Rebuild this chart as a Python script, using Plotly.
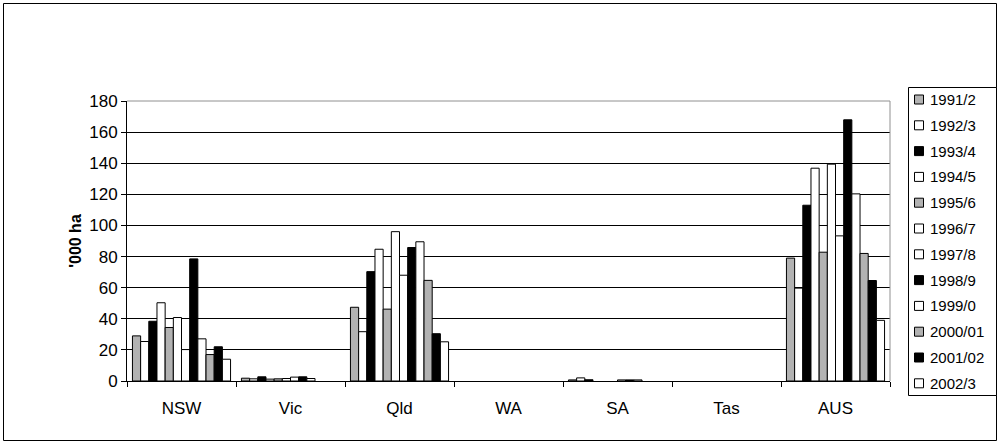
import plotly.graph_objects as go

categories = ["NSW", "Vic", "Qld", "WA", "SA", "Tas", "AUS"]
series_names = ["1991/2", "1992/3", "1993/4", "1994/5", "1995/6", "1996/7",
                "1997/8", "1998/9", "1999/0", "2000/01", "2001/02", "2002/3"]

v_1991_2 = [29.0, 1.8, 47.4, 0, 0.7, 0, 79.0]
v_1992_3 = [25.4, 1.4, 31.7, 0, 2.0, 0, 59.7]
v_1993_4 = [38.4, 2.7, 70.3, 0, 0.8, 0, 113.0]
v_1994_5 = [50.3, 1.2, 84.7, 0, 0, 0, 136.8]
v_1995_6 = [34.4, 1.4, 46.2, 0, 0, 0, 82.8]
v_1996_7 = [40.8, 1.6, 96.0, 0, 0, 0, 139.4]
v_1997_8 = [20.2, 2.5, 68.0, 0, 0.7, 0, 93.3]
v_1998_9 = [78.5, 2.7, 85.8, 0, 0.7, 0, 167.9]
v_1999_0 = [27.1, 1.6, 89.5, 0, 0.7, 0, 120.3]
v_2000_01 = [17.0, 0, 64.7, 0, 0, 0, 82.0]
v_2001_02 = [22.0, 0, 30.4, 0, 0, 0, 64.6]
v_2002_3 = [14.0, 0, 25.2, 0, 0, 0, 39.0]

series_values = [v_1991_2, v_1992_3, v_1993_4, v_1994_5, v_1995_6, v_1996_7,
                 v_1997_8, v_1998_9, v_1999_0, v_2000_01, v_2001_02, v_2002_3]

GRAY = "#b2b2b2"
WHITE = "#ffffff"
BLACK = "#000000"
series_colors = [GRAY, WHITE, BLACK, WHITE, GRAY, WHITE,
                 WHITE, BLACK, WHITE, GRAY, BLACK, WHITE]

y_title = "'000 ha"
y_ticks = [0, 20, 40, 60, 80, 100, 120, 140, 160, 180]

FONT = "Liberation Sans, Arial, sans-serif"
W, H = 1000, 444
ML, MR, MT, MB = 127, 110, 101, 63
PW, PH = W - ML - MR, H - MT - MB


def px_x(x):
    return (x - ML) / PW


def px_y(y):
    return (H - MB - y) / PH


fig = go.Figure()
for name, vals, col in zip(series_names, series_values, series_colors):
    # zero values draw no bar (as in the original chart)
    fig.add_trace(go.Bar(
        x=categories, y=[v if v else None for v in vals], name=name,
        marker=dict(color=col, line=dict(color=BLACK, width=1)),
        showlegend=False,
    ))

shapes = []
annotations = []

# outer chart border
shapes.append(dict(type="rect", xref="paper", yref="paper",
                   x0=px_x(3.5), x1=px_x(996.5), y0=px_y(440.5), y1=px_y(3.5),
                   line=dict(color=BLACK, width=1), layer="below"))
# plot area border (top / right, gray)
shapes.append(dict(type="line", xref="paper", yref="paper", x0=0, x1=1, y0=1, y1=1,
                   line=dict(color="#909090", width=1), layer="above"))
shapes.append(dict(type="line", xref="paper", yref="paper", x0=1, x1=1, y0=0, y1=1,
                   line=dict(color="#909090", width=1), layer="above"))

# legend (custom, to match compact Excel-style legend)
LEG_L, LEG_R, LEG_T, LEG_B = 908.5, 996.5, 87.5, 395.5
shapes.append(dict(type="rect", xref="paper", yref="paper",
                   x0=px_x(LEG_L), x1=px_x(LEG_R), y0=px_y(LEG_B), y1=px_y(LEG_T),
                   line=dict(color=BLACK, width=1), fillcolor="white", layer="above"))
ITEM0, STEP = 99.5, 25.8
for i, (name, col) in enumerate(zip(series_names, series_colors)):
    cy = ITEM0 + STEP * i
    shapes.append(dict(type="rect", xref="paper", yref="paper",
                       x0=px_x(914.5), x1=px_x(923.5),
                       y0=px_y(cy + 4.5), y1=px_y(cy - 4.5),
                       line=dict(color=BLACK, width=1), fillcolor=col, layer="above"))
    annotations.append(dict(xref="paper", yref="paper", x=px_x(928), y=px_y(cy),
                            xanchor="left", yanchor="middle", text=name,
                            showarrow=False,
                            font=dict(family=FONT, size=15, color=BLACK)))

fig.update_layout(
    width=W, height=H,
    margin=dict(l=ML, r=MR, t=MT, b=MB, pad=0),
    paper_bgcolor="white", plot_bgcolor="white",
    barmode="group", bargap=0.1, bargroupgap=0,
    font=dict(family=FONT, size=16, color=BLACK),
    showlegend=False,
    shapes=shapes, annotations=annotations,
    xaxis=dict(type="category", showline=True, linecolor=BLACK, linewidth=1,
               ticks="outside", tickson="boundaries", ticklen=5, tickcolor=BLACK,
               ticklabelstandoff=12,
               showgrid=False, tickfont=dict(family=FONT, size=17, color=BLACK)),
    yaxis=dict(range=[0, 180], tickvals=y_ticks, showline=True, linecolor=BLACK,
               linewidth=1, ticks="outside", ticklen=5, tickcolor=BLACK,
               showgrid=True, gridcolor=BLACK, gridwidth=1, zeroline=False,
               tickfont=dict(family=FONT, size=17, color=BLACK),
               title=dict(text="<b>" + y_title + "</b>", standoff=3,
                          font=dict(family=FONT, size=16, color=BLACK))),
)

fig.write_html("out.html", config={"displayModeBar": False},
               post_script="document.body.style.margin='0';")
